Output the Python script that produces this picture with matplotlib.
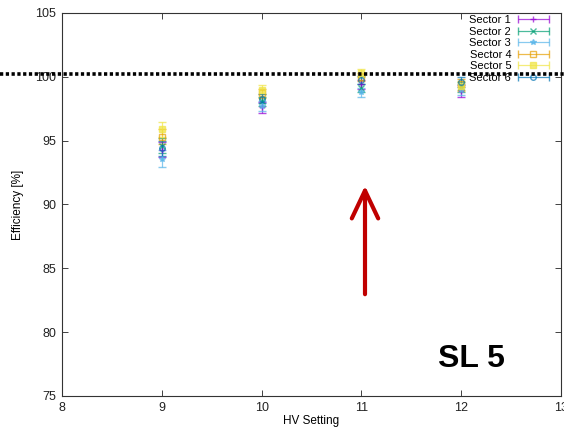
import matplotlib
matplotlib.use('Agg')
import matplotlib.pyplot as plt
from matplotlib.lines import Line2D
from matplotlib.patches import ArrowStyle, FancyArrowPatch
from matplotlib.legend_handler import HandlerErrorbar
import numpy as np

plt.rcParams['font.family'] = ['Liberation Sans', 'DejaVu Sans']

hv = [9, 10, 11, 12]
sectors = ['Sector 1', 'Sector 2', 'Sector 3', 'Sector 4', 'Sector 5', 'Sector 6']
eff = [
    [94.3, 97.6, 99.4, 98.9],
    [94.6, 98.1, 99.1, 99.2],
    [93.6, 97.7, 98.8, 99.0],
    [95.3, 98.7, 100.0, 99.4],
    [95.9, 99.0, 100.3, 99.3],
    [94.4, 98.3, 99.75, 99.6],
]
err = [
    [0.6, 0.4, 0.35, 0.45],
    [0.6, 0.35, 0.3, 0.4],
    [0.7, 0.4, 0.35, 0.4],
    [0.6, 0.35, 0.3, 0.4],
    [0.6, 0.35, 0.3, 0.4],
    [0.6, 0.35, 0.3, 0.4],
]
colors = ['#9400d3', '#009e73', '#56b4e9', '#e69f00', '#f0e442', '#0072b2']
markers = ['+', 'x', '*', 's', 's', 'o']
fills = ['full', 'full', 'full', 'none', 'full', 'none']
ref_line = 100.2

fig = plt.figure(figsize=(5.64, 4.30), dpi=100)
ax = fig.add_axes([0.1099, 0.0791, 0.885, 0.8907])

handles = []
for i in range(6):
    mfc = 'none' if fills[i] == 'none' else colors[i]
    style = dict(fmt=markers[i], color=colors[i], mfc=mfc, mec=colors[i], ms=4,
                 mew=1, elinewidth=0.9, capsize=3, capthick=0.9, alpha=0.7)
    ax.errorbar(hv, eff[i], yerr=err[i], **style)
    h = ax.errorbar([np.nan], [np.nan], xerr=[np.nan], **style)
    handles.append(h)

ax.set_xlim(8, 13)
ax.set_ylim(75, 105)
ax.set_xticks([8, 9, 10, 11, 12, 13])
ax.set_yticks([75, 80, 85, 90, 95, 100, 105])
ax.tick_params(direction='in', top=True, right=True, labelsize=9,
               length=4, width=0.6, colors='#222222', pad=4)
for s in ax.spines.values():
    s.set_linewidth(0.8)
    s.set_color('#333333')
ax.set_xlabel('HV Setting', fontsize=8.5, labelpad=1)
ax.set_ylabel('Efficiency [%]', fontsize=8.5, labelpad=8)

ax.legend(handles, sectors, loc='upper right', bbox_to_anchor=(549 / 564, 1 - 15 / 430),
          bbox_transform=fig.transFigure, frameon=False, fontsize=8,
          markerfirst=False, handlelength=2.8, handletextpad=0.6,
          labelspacing=0.14, borderpad=0, borderaxespad=0,
          handler_map={type(handles[0]): HandlerErrorbar(xerr_size=1.4)})

# dotted reference line across the whole figure
yfig = fig.transFigure.inverted().transform(ax.transData.transform((10, ref_line)))[1]
fig.add_artist(Line2D([0, 1], [yfig, yfig], transform=fig.transFigure, color='black',
                      lw=2.6, linestyle=(0, (0.9, 0.7)), zorder=10))

# red arrow
fig.add_artist(FancyArrowPatch(
    (365 / 564, 1 - 297 / 430), (365 / 564, 1 - 183 / 430),
    transform=fig.transFigure, color='#c00000', lw=3,
    arrowstyle=ArrowStyle('->', head_length=2.0, head_width=0.95),
    mutation_scale=10, zorder=10))

fig.text(471 / 564, 1 - 359 / 430, 'SL 5', fontsize=23, fontweight='bold',
         ha='center', va='center')

fig.savefig('out.png', dpi=100)
